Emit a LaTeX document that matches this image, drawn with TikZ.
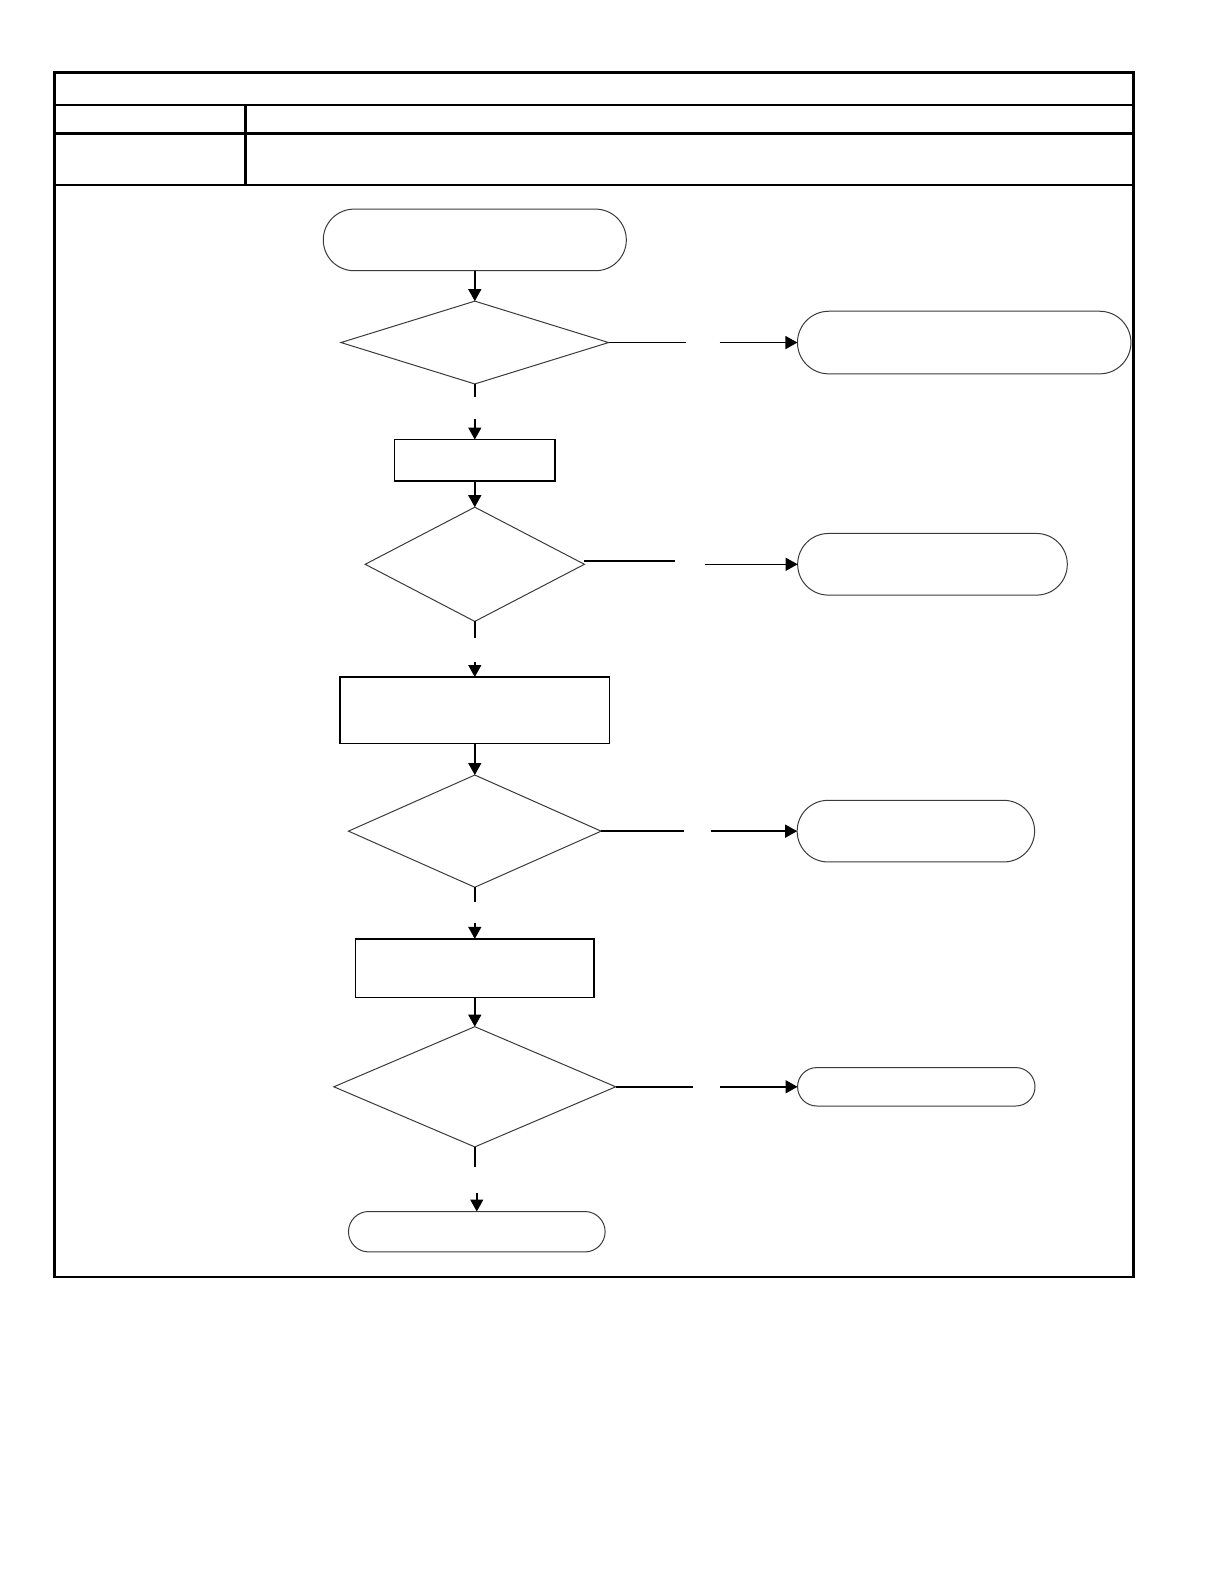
\documentclass[tikz,border=0pt]{standalone}
\usepackage{xcolor}
\usepackage{tikz}
\usetikzlibrary{shapes.geometric, shapes.misc, arrows.meta, positioning}
\definecolor{ShapeGray}{HTML}{3A3A3A}

\begin{document}
\begin{tikzpicture}[
    x=0.505pt, y=-0.505pt,
    % Style for the rounded start/end/result boxes
    terminal/.style = {
        rounded rectangle, draw=ShapeGray, line width=0.5pt,
        inner sep=0pt, outer sep=0pt
    },
    % Style for the decision diamonds
    decision/.style = {
        diamond, draw=ShapeGray, line width=0.5pt,
        inner sep=0pt, outer sep=0pt
    },
    % Style for the action boxes
    action/.style = {
        rectangle, draw=black, line width=0.7pt,
        inner sep=0pt, outer sep=0pt
    },
    frame/.style = {draw=black, line width=1.3pt},
    link/.style = {draw=black, line width=0.7pt},
    arr/.style = {link, -{Triangle[length=6pt, width=6.5pt]}},
]
\useasboundingbox (0,0) rectangle (1212,1568);

% --- 1. HEADER TABLE ---
\draw[frame] (54,72) rectangle (1122,1264);
\draw[frame] (54,104) -- (1122,104);
\draw[frame] (54,132) -- (1122,132);
\draw[frame] (54,183) -- (1122,183);
\draw[frame] (243,104) -- (243,183);

% --- 2. MAIN COLUMN ---
\node[terminal, minimum width=151.5pt, minimum height=30.8pt] (start) at (470,237.5) {};
\node[decision, minimum width=133.8pt, minimum height=41.4pt, below=15.2pt of start] (check1) {};
\node[action, minimum width=80.3pt, minimum height=20.7pt, below=27.8pt of check1] (step1) {};
\node[decision, minimum width=109.6pt, minimum height=57.1pt, below=13.1pt of step1] (check2) {};
\node[action, minimum width=134.8pt, minimum height=33.3pt, below=27.8pt of check2] (step2) {};
\node[decision, minimum width=126.3pt, minimum height=56.1pt, below=15.7pt of step2] (check3) {};
\node[action, minimum width=119.2pt, minimum height=29.3pt, below=25.8pt of check3] (step3) {};
\node[decision, minimum width=140.9pt, minimum height=60.1pt, below=14.6pt of step3] (check4) {};
\node[terminal, minimum width=128.3pt, minimum height=20.2pt, below=32.3pt of check4, xshift=1pt] (finish) {};

% --- 3. SIDE RESULTS ---
\node[terminal, minimum width=166.7pt, minimum height=31.3pt, right=94.4pt of check1] (result1) {};
\node[terminal, minimum width=134.8pt, minimum height=30.8pt, right=106.6pt of check2] (result2) {};
\node[terminal, minimum width=118.7pt, minimum height=30.8pt, right=98pt of check3] (result3) {};
\node[terminal, minimum width=118.7pt, minimum height=19.2pt, right=90.9pt of check4] (result4) {};

% --- 4. BREAK POINTS OF THE SPLIT CONNECTORS ---
\coordinate[below=6.6pt of check1] (down1);
\coordinate[above=10.1pt of step1] (into1);
\coordinate[below=8.1pt of check2] (down2);
\coordinate[above=7.6pt of step2] (into2);
\coordinate[below=7.6pt of check3] (down3);
\coordinate[above=8.1pt of step3] (into3);
\coordinate[below=10.1pt of check4] (down4);
\coordinate[above=9.1pt of finish] (into4);

\coordinate[right=38.9pt of check1] (side1);
\coordinate[left=38.9pt of result1] (reach1);
\coordinate[right=45.5pt of check2, yshift=1.7pt] (side2);
\coordinate[left=46.5pt of result2] (reach2);
\coordinate[right=41.4pt of check3] (side3);
\coordinate[left=42.9pt of result3] (reach3);
\coordinate[right=38.4pt of check4] (side4);
\coordinate[left=38.9pt of result4] (reach4);

% --- 5. DRAW CONNECTORS ---
\draw[arr] (start) -- (check1);
\draw[link] (check1) -- (down1);
\draw[arr] (into1) -- (step1);
\draw[arr] (step1) -- (check2);
\draw[link] (check2) -- (down2);
\draw[arr] (into2) -- (step2);
\draw[arr] (step2) -- (check3);
\draw[link] (check3) -- (down3);
\draw[arr] (into3) -- (step3);
\draw[arr] (step3) -- (check4);
\draw[link] (check4) -- (down4);
\draw[arr] (into4) -- (finish);

\draw[link] (check1.east) -- (side1);
\draw[arr] (reach1) -- (result1);
\draw[link, line width=1.3pt] ([yshift=1.7pt]check2.east) -- (side2);
\draw[arr] (reach2) -- (result2);
\draw[link] (check3.east) -- (side3);
\draw[arr] (reach3) -- (result3);
\draw[link] (check4.east) -- (side4);
\draw[arr] (reach4) -- (result4);

\end{tikzpicture}
\end{document}
